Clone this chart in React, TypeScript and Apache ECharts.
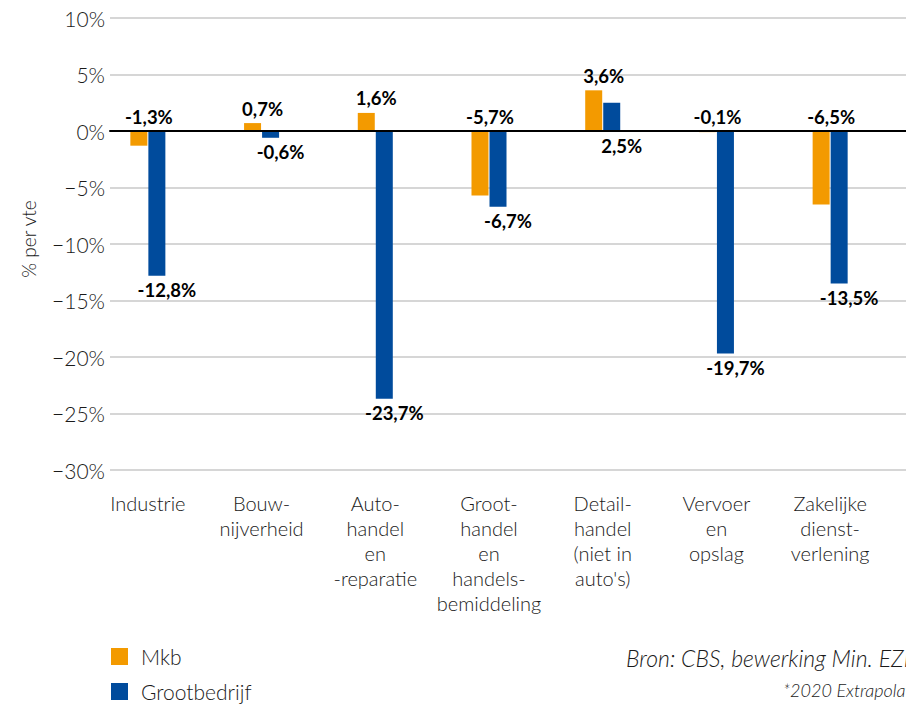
import React, { useEffect, useRef } from "react";
import * as echarts from "echarts";

const categories = [
  "Industrie",
  "Bouw-\nnijverheid",
  "Auto-\nhandel\nen\n-reparatie",
  "Groot-\nhandel\nen\nhandels-\nbemiddeling",
  "Detail-\nhandel\n(niet in\nauto's)",
  "Vervoer\nen\nopslag",
  "Zakelijke\ndienst-\nverlening",
];
const mkb = [-1.3, 0.7, 1.6, -5.7, 3.6, -0.1, -6.5];
const grootbedrijf = [-12.8, -0.6, -23.7, -6.7, 2.5, -19.7, -13.5];
const yMin = -30;
const yMax = 10;
const yStep = 5;

const ORANGE = "#F39A00";
const BLUE = "#004B9C";
const FONT = "Lato";
const TXT = "#1a1a1a";

const fmtVal = (v: number) => v.toFixed(1).replace(".", ",") + "%";
const fmtTick = (v: number) => (v < 0 ? "\u2212" : "") + Math.abs(v) + "%";

export default function App() {
  const ref = useRef<HTMLDivElement>(null);
  useEffect(() => {
    if (!ref.current) return;
    const chart = echarts.init(ref.current, undefined, { renderer: "svg" });
    const labelStyle = {
      show: true,
      fontFamily: FONT,
      fontWeight: "bold" as const,
      fontSize: 18.5,
      color: "#000",
      offset: [10, 0],
      distance: 5,
      formatter: (p: any) => fmtVal(p.value),
    };
    chart.setOption({
      animation: false,
      textStyle: { fontFamily: FONT },
      grid: [
        { left: 110, right: 0, top: 18, bottom: 235, containLabel: false },
        { left: 91, width: 796, top: 18, bottom: 235, containLabel: false },
      ],
      xAxis: [
        {
          gridIndex: 0,
          type: "value",
          min: 0,
          max: 1,
          z: 10,
          axisLine: { show: true, onZero: true, lineStyle: { color: "#000", width: 2 } },
          axisTick: { show: false },
          axisLabel: { show: false },
          splitLine: { show: false },
        },
        {
          gridIndex: 1,
          type: "category",
          data: categories,
          position: "bottom",
          axisLine: { show: false, onZero: false },
          axisTick: { show: false },
          axisLabel: {
            margin: 20,
            fontFamily: FONT,
            fontWeight: 300,
            fontSize: 20,
            lineHeight: 25,
            color: TXT,
            align: "center",
            interval: 0,
          },
        },
      ],
      yAxis: [
        {
          gridIndex: 0,
          type: "value",
          min: yMin,
          max: yMax,
          interval: yStep,
          name: "% per vte",
          nameLocation: "middle",
          nameGap: 72,
          nameTextStyle: { fontFamily: FONT, fontWeight: 300, fontSize: 19, color: TXT, padding: [0, 0, 0, 10] },
          axisLine: { show: false },
          axisTick: { show: false },
          axisLabel: {
            margin: 5,
            fontFamily: FONT,
            fontWeight: 300,
            fontSize: 21,
            color: TXT,
            formatter: fmtTick,
          },
          splitLine: { show: true, lineStyle: { color: "#D6D6D6", width: 2 } },
        },
        {
          gridIndex: 1,
          type: "value",
          min: yMin,
          max: yMax,
          interval: yStep,
          show: false,
        },
      ],
      legend: {
        orient: "vertical",
        left: 111,
        top: 646,
        height: 60,
        padding: 0,
        itemWidth: 17,
        itemHeight: 17,
        itemGap: 14,
        icon: "rect",
        textStyle: {
          fontFamily: FONT,
          fontWeight: 300,
          fontSize: 21,
          lineHeight: 17,
          color: TXT,
          padding: [0, 0, 0, 8],
        },
        data: ["Mkb", "Grootbedrijf"],
      },
      series: [
        {
          name: "Mkb",
          type: "bar",
          xAxisIndex: 1,
          yAxisIndex: 1,
          data: mkb,
          barWidth: 17,
          barGap: "6%",
          itemStyle: { color: ORANGE },
          label: { ...labelStyle, position: "top" },
        },
        {
          name: "Grootbedrijf",
          type: "bar",
          xAxisIndex: 1,
          yAxisIndex: 1,
          data: grootbedrijf,
          barWidth: 17,
          barGap: "6%",
          itemStyle: { color: BLUE },
          label: { ...labelStyle, position: "bottom" },
        },
      ],
      graphic: [
        {
          type: "text",
          x: 626,
          y: 658,
          style: {
            text: "Bron: CBS, bewerking Min. EZK",
            fontFamily: FONT,
            fontStyle: "italic",
            fontWeight: 300,
            fontSize: 23,
            fill: TXT,
            verticalAlign: "middle",
          },
        },
        {
          type: "text",
          x: 783,
          y: 690,
          style: {
            text: "*2020 Extrapolatie",
            fontFamily: FONT,
            fontStyle: "italic",
            fontWeight: 300,
            fontSize: 18,
            fill: TXT,
            verticalAlign: "middle",
          },
        },
      ],
    });
    return () => chart.dispose();
  }, []);
  return (
    <div
      ref={ref}
      style={{ position: "fixed", left: 0, top: 0, width: 906, height: 705, background: "#fff" }}
    />
  );
}
